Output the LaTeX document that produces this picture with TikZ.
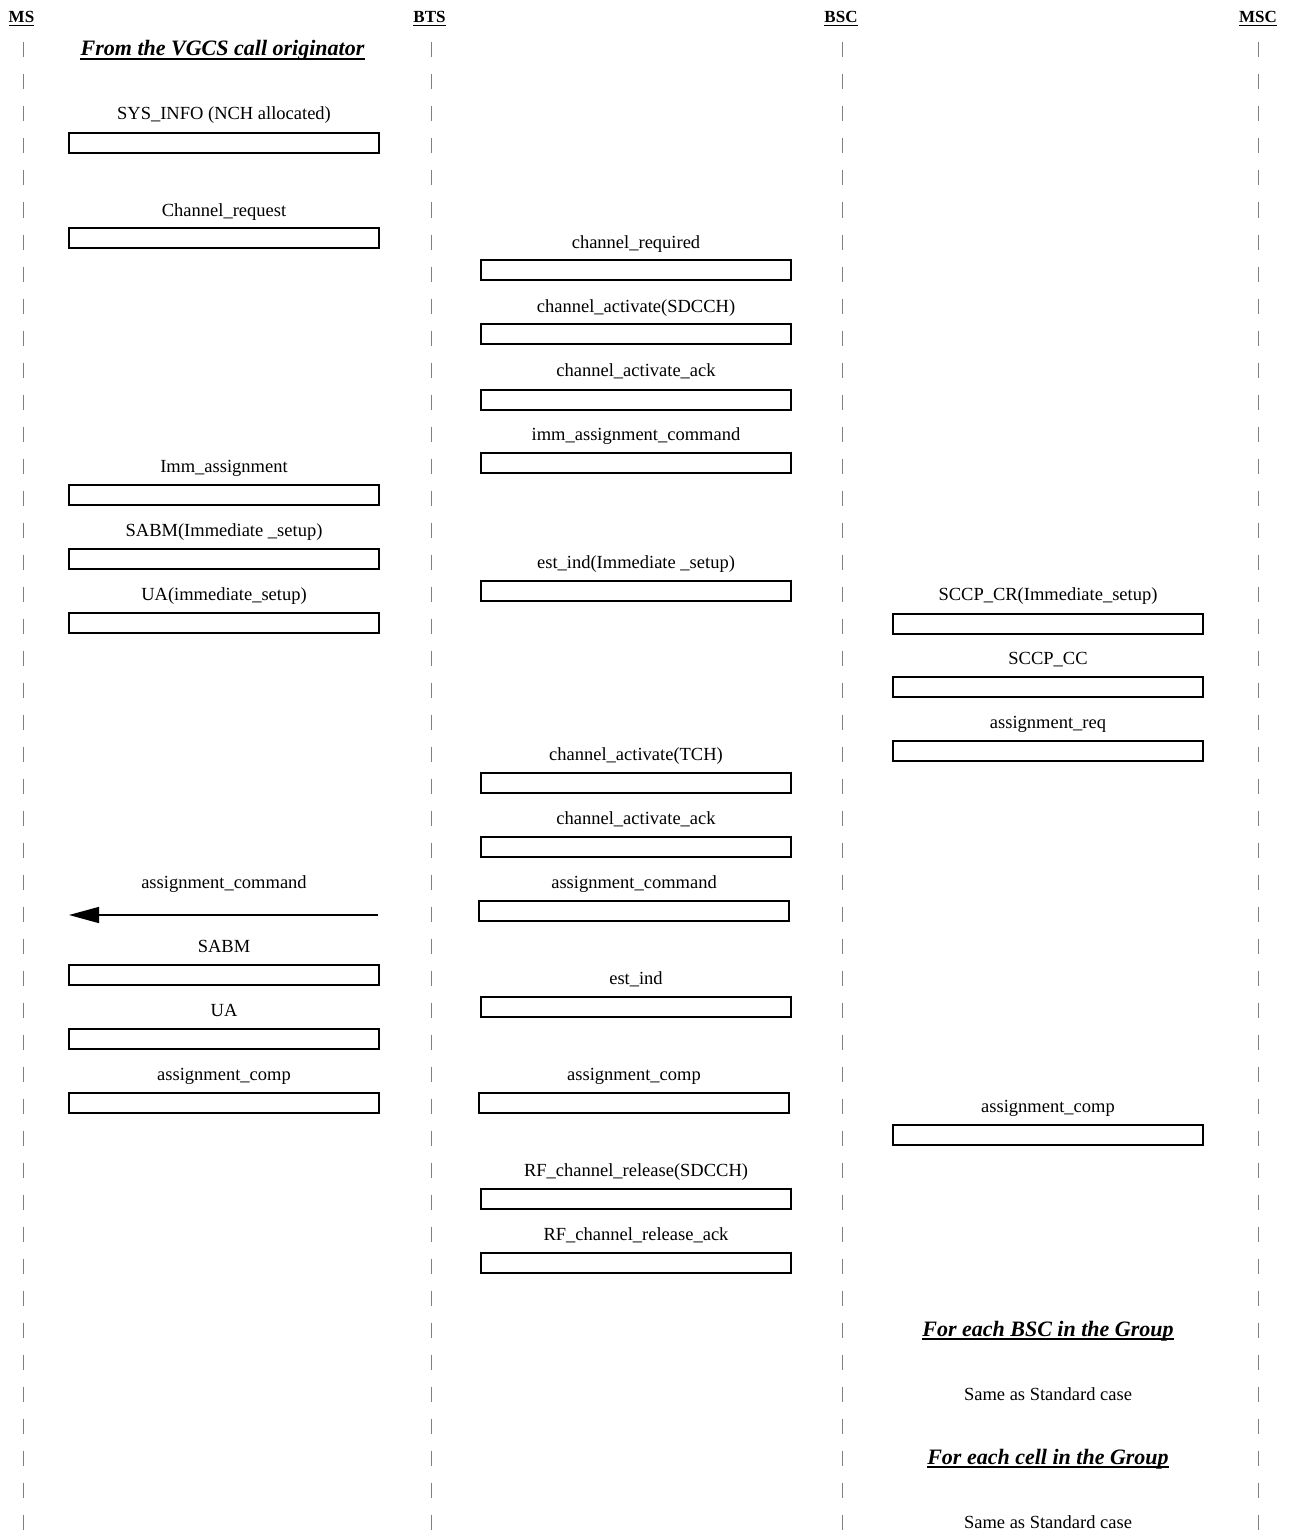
\documentclass[tikz,border=0pt]{standalone}
\usepackage{fontspec}
\setmainfont{Liberation Serif}
\usetikzlibrary{arrows.meta}
\begin{document}
\begin{tikzpicture}[x=1pt,y=-1pt,
  lbl/.style={font=\fontsize{18.5}{20}\selectfont, anchor=base, inner sep=0pt},
  msgbox/.style={draw, line width=2pt, minimum width=310pt, minimum height=20pt, inner sep=0pt},
  hdr/.style={font=\fontsize{17}{20}\selectfont\bfseries, anchor=base, inner sep=0pt},
  note/.style={font=\fontsize{22}{24}\selectfont\bfseries\itshape, anchor=base, inner sep=0pt},
  ulline/.style={line width=1.6pt},
  tickmark/.style={draw=gray, line width=0.9pt}]
\useasboundingbox (0,0) rectangle (1293,1533);
% headers
\node[hdr] (ms)  at (21.5,23)  {MS};
\node[hdr] (bts) at (429.5,23) {BTS};
\node[hdr] (bsc) at (841,23)   {BSC};
\node[hdr] (msc) at (1258,23)  {MSC};
\foreach \h in {ms,bts,bsc,msc}
  \draw[ulline] ([yshift=-2.5pt]\h.base west) -- ([yshift=-2.5pt]\h.base east);
% lifelines made of ticks
\foreach \x in {23,431,842,1258}
  \foreach \k in {0,...,46}
    \draw[tickmark] (\x,{42.5+32*\k}) -- ++(0,15);
% notes
\node[note] (orig) at (222.5,56) {From the VGCS call originator};
\node[note] (eachbsc) at (1048,1336) {For each BSC in the Group};
\node[lbl] (same1) at (1048,1400) {Same as Standard case};
\node[note] (eachcell) at (1048,1464) {For each cell in the Group};
\node[lbl] (same2) at (1048,1528) {Same as Standard case};
\foreach \h in {orig,eachbsc,eachcell}
  \draw[ulline] ([yshift=-3pt]\h.base west) -- ([yshift=-3pt]\h.base east);
% MS - BTS
\node[lbl] (l1) at (224,120) {SYS\_INFO (NCH allocated)};
\node[msgbox] (b1) at (224,143) {};
\node[lbl] (l2) at (224,216) {Channel\_request};
\node[msgbox] (b2) at (224,238) {};
\node[lbl] (l8) at (224,472) {Imm\_assignment};
\node[msgbox] (b8) at (224,495) {};
\node[lbl] (l9) at (224,536) {SABM(Immediate \_setup)};
\node[msgbox] (b9) at (224,559) {};
\node[lbl] (l11) at (224,600) {UA(immediate\_setup)};
\node[msgbox] (b11) at (224,623) {};
\node[lbl] (l17) at (224,888) {assignment\_command};
\coordinate (a1) at (378,915);
\coordinate (a2) at (69,915);
\draw[line width=1.5pt, -{Triangle[length=30pt,width=16pt]}] (a1) -- (a2);
\node[lbl] (l19) at (224,952) {SABM};
\node[msgbox] (b19) at (224,975) {};
\node[lbl] (l21) at (224,1016) {UA};
\node[msgbox] (b21) at (224,1039) {};
\node[lbl] (l22) at (224,1080) {assignment\_comp};
\node[msgbox] (b22) at (224,1103) {};
% BTS - BSC
\node[lbl] (l3) at (636,248) {channel\_required};
\node[msgbox] (b3) at (636,270) {};
\node[lbl] (l4) at (636,312) {channel\_activate(SDCCH)};
\node[msgbox] (b4) at (636,334) {};
\node[lbl] (l5) at (636,376) {channel\_activate\_ack};
\node[msgbox] (b5) at (636,400) {};
\node[lbl] (l6) at (636,440) {imm\_assignment\_command};
\node[msgbox] (b6) at (636,463) {};
\node[lbl] (l10) at (636,568) {est\_ind(Immediate \_setup)};
\node[msgbox] (b10) at (636,591) {};
\node[lbl] (l15) at (636,760) {channel\_activate(TCH)};
\node[msgbox] (b15) at (636,783) {};
\node[lbl] (l16) at (636,824) {channel\_activate\_ack};
\node[msgbox] (b16) at (636,847) {};
\node[lbl] (l18) at (634,888) {assignment\_command};
\node[msgbox] (b18) at (634,911) {};
\node[lbl] (l20) at (636,984) {est\_ind};
\node[msgbox] (b20) at (636,1007) {};
\node[lbl] (l23) at (634,1080) {assignment\_comp};
\node[msgbox] (b23) at (634,1103) {};
\node[lbl] (l25) at (636,1176) {RF\_channel\_release(SDCCH)};
\node[msgbox] (b25) at (636,1199) {};
\node[lbl] (l26) at (636,1240) {RF\_channel\_release\_ack};
\node[msgbox] (b26) at (636,1263) {};
% BSC - MSC
\node[lbl] (l12) at (1048,600) {SCCP\_CR(Immediate\_setup)};
\node[msgbox] (b12) at (1048,624) {};
\node[lbl] (l13) at (1048,664) {SCCP\_CC};
\node[msgbox] (b13) at (1048,687) {};
\node[lbl] (l14) at (1048,728) {assignment\_req};
\node[msgbox] (b14) at (1048,751) {};
\node[lbl] (l24) at (1048,1112) {assignment\_comp};
\node[msgbox] (b24) at (1048,1135) {};
\end{tikzpicture}
\end{document}
